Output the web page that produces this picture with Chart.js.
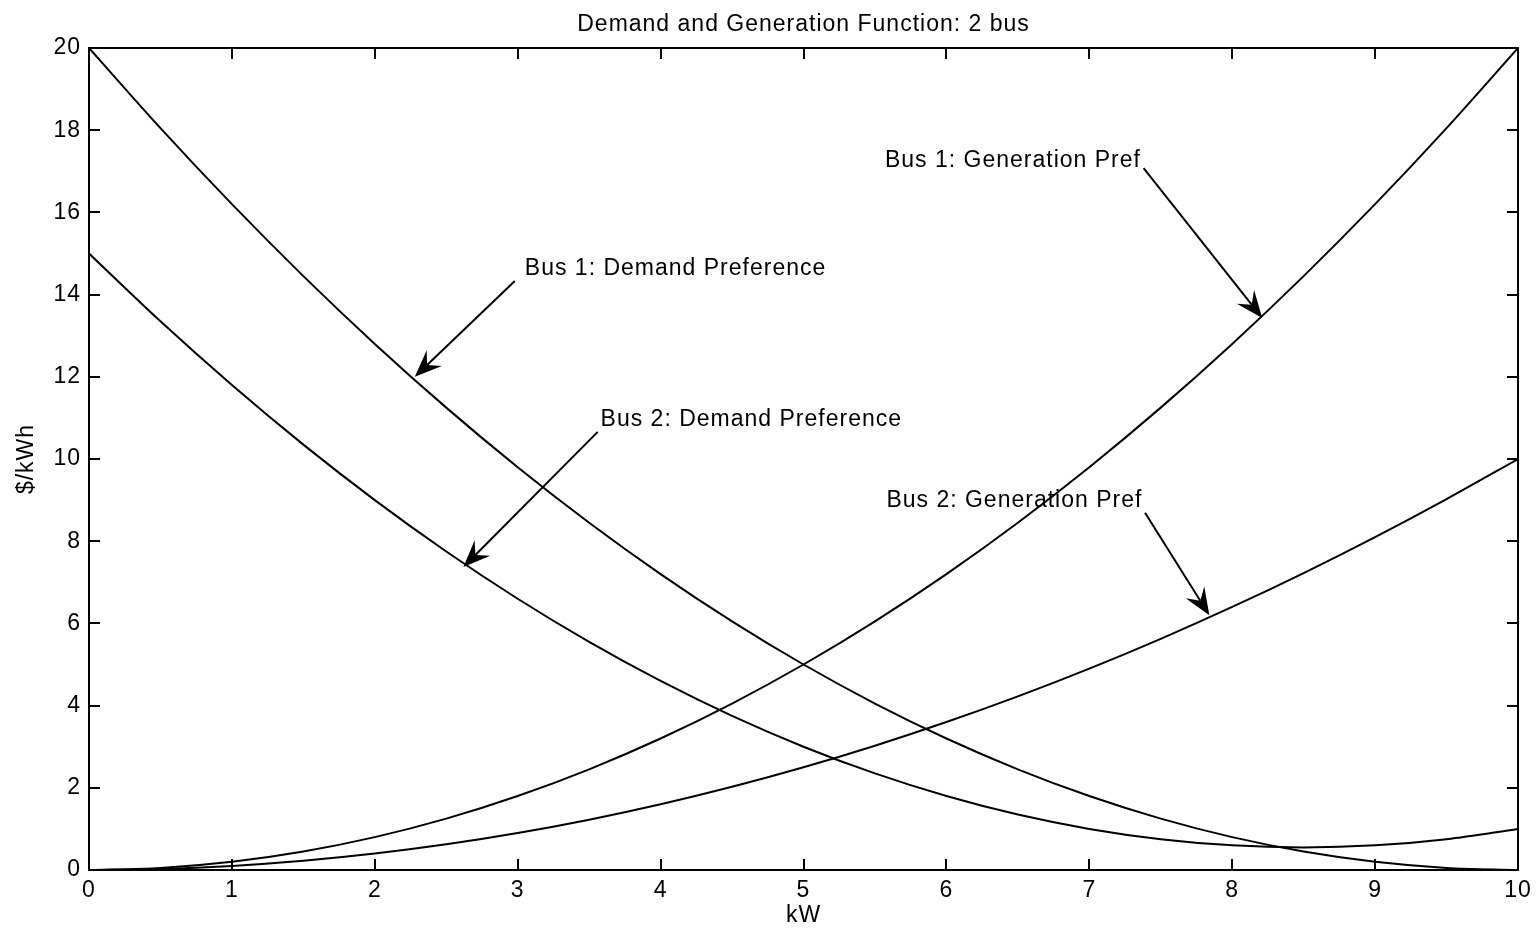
<!DOCTYPE html>
<html><head><meta charset="utf-8">
<script src="https://cdn.jsdelivr.net/npm/chart.js@4.4.0/dist/chart.umd.min.js"></script>
<style>html,body{margin:0;padding:0;background:#fff;}</style>
</head><body>
<canvas id="c" width="1540" height="934" style="width:1540px;height:934px;display:block"></canvas>
<script>
const chartTitle = 'Demand and Generation Function: 2 bus';
const xAxisLabel = 'kW';
const yAxisLabel = '$/kWh';
const xValues = [0,0.5,1,1.5,2,2.5,3,3.5,4,4.5,5,5.5,6,6.5,7,7.5,8,8.5,9,9.5,10];
const bus1Demand = [20,18.05,16.2,14.45,12.8,11.25,9.8,8.45,7.2,6.05,5,4.05,3.2,2.45,1.8,1.25,0.8,0.45,0.2,0.05,0];
const bus2Demand = [15,13.35,11.8,10.35,9.0,7.75,6.6,5.55,4.6,3.75,3.0,2.35,1.8,1.35,1.0,0.75,0.6,0.55,0.6,0.75,1.0];
const bus1Generation = [0,0.05,0.2,0.45,0.8,1.25,1.8,2.45,3.2,4.05,5,6.05,7.2,8.45,9.8,11.25,12.8,14.45,16.2,18.05,20];
const bus2Generation = [0,0.025,0.1,0.225,0.4,0.625,0.9,1.225,1.6,2.025,2.5,3.025,3.6,4.225,4.9,5.625,6.4,7.225,8.1,9.025,10];
const xTicks = [0,1,2,3,4,5,6,7,8,9,10];
const yTicks = [0,2,4,6,8,10,12,14,16,18,20];
const annotationLabels = ['Bus 1: Demand Preference','Bus 2: Demand Preference','Bus 1: Generation Pref','Bus 2: Generation Pref'];
const annotationTextX = [3.05,3.58,5.57,5.58];
const annotationTextY = [14.62,10.95,17.25,8.98];
const arrowFromX = [2.98,3.56,7.38,7.39];
const arrowFromY = [14.33,10.66,17.08,8.69];
const arrowToX = [2.28,2.62,8.21,7.84];
const arrowToY = [12.0,7.37,13.43,6.2];

const FONT_FAMILY = '"Liberation Sans", Arial, Helvetica, sans-serif';
const fnt = {family: FONT_FAMILY, size: 23, weight: 'normal', lineHeight: 1.2};
Chart.defaults.color = '#000';

const toXY = (ys) => xValues.map((x, i) => ({x: x, y: ys[i]}));

const matlabPlugin = {
  id: 'matlab',
  beforeDraw(chart) {
    const ctx = chart.ctx;
    ctx.save();
    ctx.fillStyle = '#fff';
    ctx.fillRect(0, 0, chart.width, chart.height);
    ctx.restore();
    try { ctx.letterSpacing = '1px'; } catch (e) {}
  },
  afterDraw(chart) {
    const ctx = chart.ctx;
    const a = chart.chartArea;
    const xs = chart.scales.x, ys = chart.scales.y;
    ctx.save();
    try { ctx.letterSpacing = '1px'; } catch (e) {}
    ctx.strokeStyle = '#000';
    ctx.lineWidth = 2;
    ctx.strokeRect(a.left, a.top, a.right - a.left, a.bottom - a.top);
    const tl = 11;
    ctx.beginPath();
    xTicks.forEach(v => {
      const px = Math.round(xs.getPixelForValue(v));
      ctx.moveTo(px, a.bottom); ctx.lineTo(px, a.bottom - tl);
      ctx.moveTo(px, a.top); ctx.lineTo(px, a.top + tl);
    });
    yTicks.forEach(v => {
      const py = Math.round(ys.getPixelForValue(v));
      ctx.moveTo(a.left, py); ctx.lineTo(a.left + tl, py);
      ctx.moveTo(a.right, py); ctx.lineTo(a.right - tl, py);
    });
    ctx.stroke();

    // title
    ctx.fillStyle = '#000';
    ctx.font = '23px ' + FONT_FAMILY;
    ctx.textAlign = 'center';
    ctx.textBaseline = 'middle';
    ctx.fillText(chartTitle, (a.left + a.right) / 2, 25);

    // annotations
    ctx.textAlign = 'left';
    annotationLabels.forEach((t, i) => {
      ctx.fillText(t, xs.getPixelForValue(annotationTextX[i]), ys.getPixelForValue(annotationTextY[i]));
      const x1 = xs.getPixelForValue(arrowFromX[i]), y1 = ys.getPixelForValue(arrowFromY[i]);
      const x2 = xs.getPixelForValue(arrowToX[i]), y2 = ys.getPixelForValue(arrowToY[i]);
      const ang = Math.atan2(y2 - y1, x2 - x1);
      const L = 27, W = 11, N = 17;
      ctx.lineWidth = 2;
      ctx.beginPath();
      ctx.moveTo(x1, y1);
      ctx.lineTo(x2 - Math.cos(ang) * N, y2 - Math.sin(ang) * N);
      ctx.stroke();
      ctx.save();
      ctx.translate(x2, y2);
      ctx.rotate(ang);
      ctx.beginPath();
      ctx.moveTo(0, 0);
      ctx.lineTo(-L, -W);
      ctx.lineTo(-N, 0);
      ctx.lineTo(-L, W);
      ctx.closePath();
      ctx.fill();
      ctx.restore();
    });
    ctx.restore();
  }
};

const lineStyle = {borderColor: '#000', borderWidth: 2, pointRadius: 0, fill: false, cubicInterpolationMode: 'monotone'};

new Chart(document.getElementById('c'), {
  type: 'line',
  data: {
    datasets: [
      Object.assign({label: 'Bus 1: Demand Preference', data: toXY(bus1Demand)}, lineStyle),
      Object.assign({label: 'Bus 2: Demand Preference', data: toXY(bus2Demand)}, lineStyle),
      Object.assign({label: 'Bus 1: Generation Pref', data: toXY(bus1Generation)}, lineStyle),
      Object.assign({label: 'Bus 2: Generation Pref', data: toXY(bus2Generation)}, lineStyle)
    ]
  },
  options: {
    responsive: false,
    animation: false,
    devicePixelRatio: 1,
    layout: {padding: {left: 0, right: 22, top: 48, bottom: 0}},
    plugins: {legend: {display: false}, title: {display: false}, tooltip: {enabled: false}},
    scales: {
      x: {
        type: 'linear', min: 0, max: 10,
        afterFit(s) { s.height = 64; },
        afterBuildTicks(s) { s.ticks = xTicks.map(v => ({value: v})); },
        grid: {display: false, drawTicks: false},
        border: {display: false},
        ticks: {padding: 7, font: fnt, color: '#000', maxRotation: 0, autoSkip: false},
        title: {display: true, text: xAxisLabel, font: fnt, color: '#000', padding: {top: 0, bottom: 5}}
      },
      y: {
        type: 'linear', min: 0, max: 20,
        afterFit(s) { s.width = 89; },
        afterBuildTicks(s) { s.ticks = yTicks.map(v => ({value: v})); },
        grid: {display: false, drawTicks: false},
        border: {display: false},
        ticks: {padding: 8, font: fnt, color: '#000', autoSkip: false},
        title: {display: true, text: yAxisLabel, font: fnt, color: '#000', padding: {top: 13, bottom: 0}}
      }
    }
  },
  plugins: [matlabPlugin]
});
</script>
</body></html>
